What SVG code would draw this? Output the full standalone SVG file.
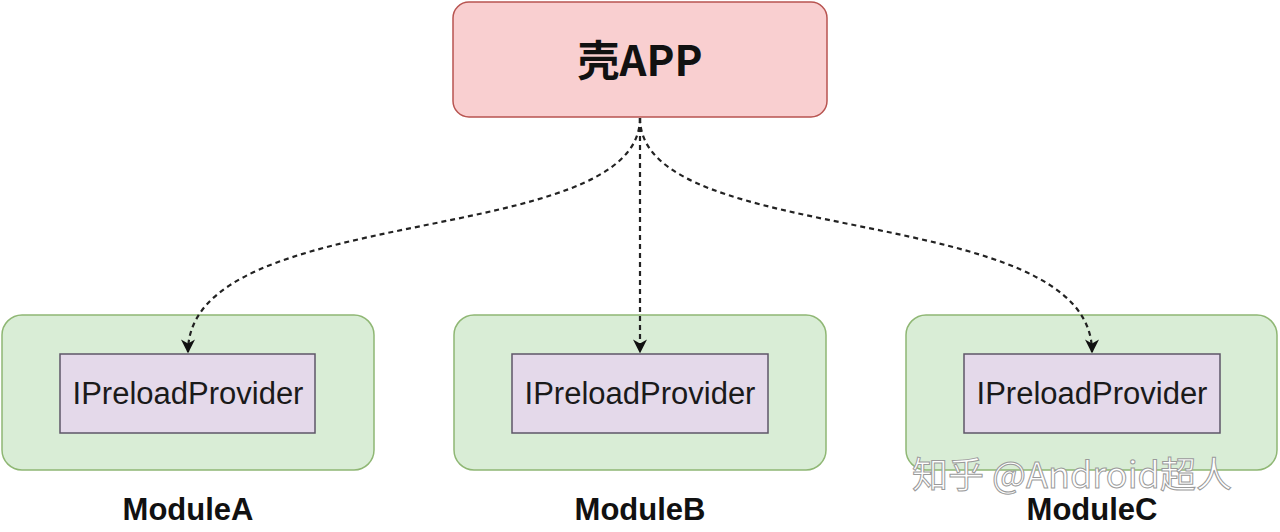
<svg xmlns="http://www.w3.org/2000/svg" width="1280" height="532" viewBox="0 0 1280 532">
<defs>
<style>
.outer{fill:#d9edd6;stroke:#8fb774;stroke-width:1.5}
.inner{fill:#e4d9ea;stroke:#5e5668;stroke-width:1.5}
.top{fill:#f9cfd0;stroke:#b85450;stroke-width:1.5}
.lbl{font-family:"Liberation Sans",Arial,sans-serif;font-size:31px;fill:#1a1a1a;text-anchor:middle}
.mod{font-family:"Liberation Sans",Arial,sans-serif;font-size:31px;font-weight:bold;fill:#111;text-anchor:middle}
.edge{fill:none;stroke:#222;stroke-width:2.2;stroke-dasharray:5,4}
.wm{font-family:"Noto Sans CJK SC","Liberation Sans",sans-serif;font-size:36px;fill:#ffffff;stroke:#9a9a9a;stroke-width:1;text-anchor:start}
</style>
<marker id="arr" viewBox="0 0 10 10" refX="9" refY="5" markerWidth="14" markerHeight="14" orient="auto" markerUnits="userSpaceOnUse">
<path d="M0,0 L10,5 L0,10 L3,5 Z" fill="#111"/>
</marker>
</defs>
<rect width="1280" height="532" fill="#ffffff"/>
<g id="app">
<rect class="top" x="453" y="2" width="374" height="115" rx="16"/>
<text x="640" y="76" font-family="'Noto Sans CJK SC','Liberation Sans',sans-serif" font-size="42" font-weight="bold" fill="#111" text-anchor="middle">壳APP</text>
</g>
<g id="moduleA">
<rect class="outer" x="2" y="315" width="372" height="155" rx="20"/>
<rect class="inner" x="60" y="354" width="255" height="79"/>
<text class="lbl" x="188" y="404">IPreloadProvider</text>
<text class="mod" x="188" y="520">ModuleA</text>
</g>
<g id="moduleB">
<rect class="outer" x="454" y="315" width="372" height="155" rx="20"/>
<rect class="inner" x="512" y="354" width="256" height="79"/>
<text class="lbl" x="640" y="404">IPreloadProvider</text>
<text class="mod" x="640" y="520">ModuleB</text>
</g>
<g id="moduleC">
<rect class="outer" x="906" y="315" width="371" height="155" rx="20"/>
<rect class="inner" x="964" y="354" width="256" height="79"/>
<text class="lbl" x="1092" y="404">IPreloadProvider</text>
<text class="mod" x="1092" y="520">ModuleC</text>
</g>
<g id="connectors">
<path class="edge" d="M640,118 C640,250 188,200 188,352" marker-end="url(#arr)"/>
<path class="edge" d="M640,118 L640,352" marker-end="url(#arr)"/>
<path class="edge" d="M640,118 C640,250 1092,200 1092,352" marker-end="url(#arr)"/>
</g>
<text class="wm" x="912" y="488">知乎 @Android超人</text>
</svg>
